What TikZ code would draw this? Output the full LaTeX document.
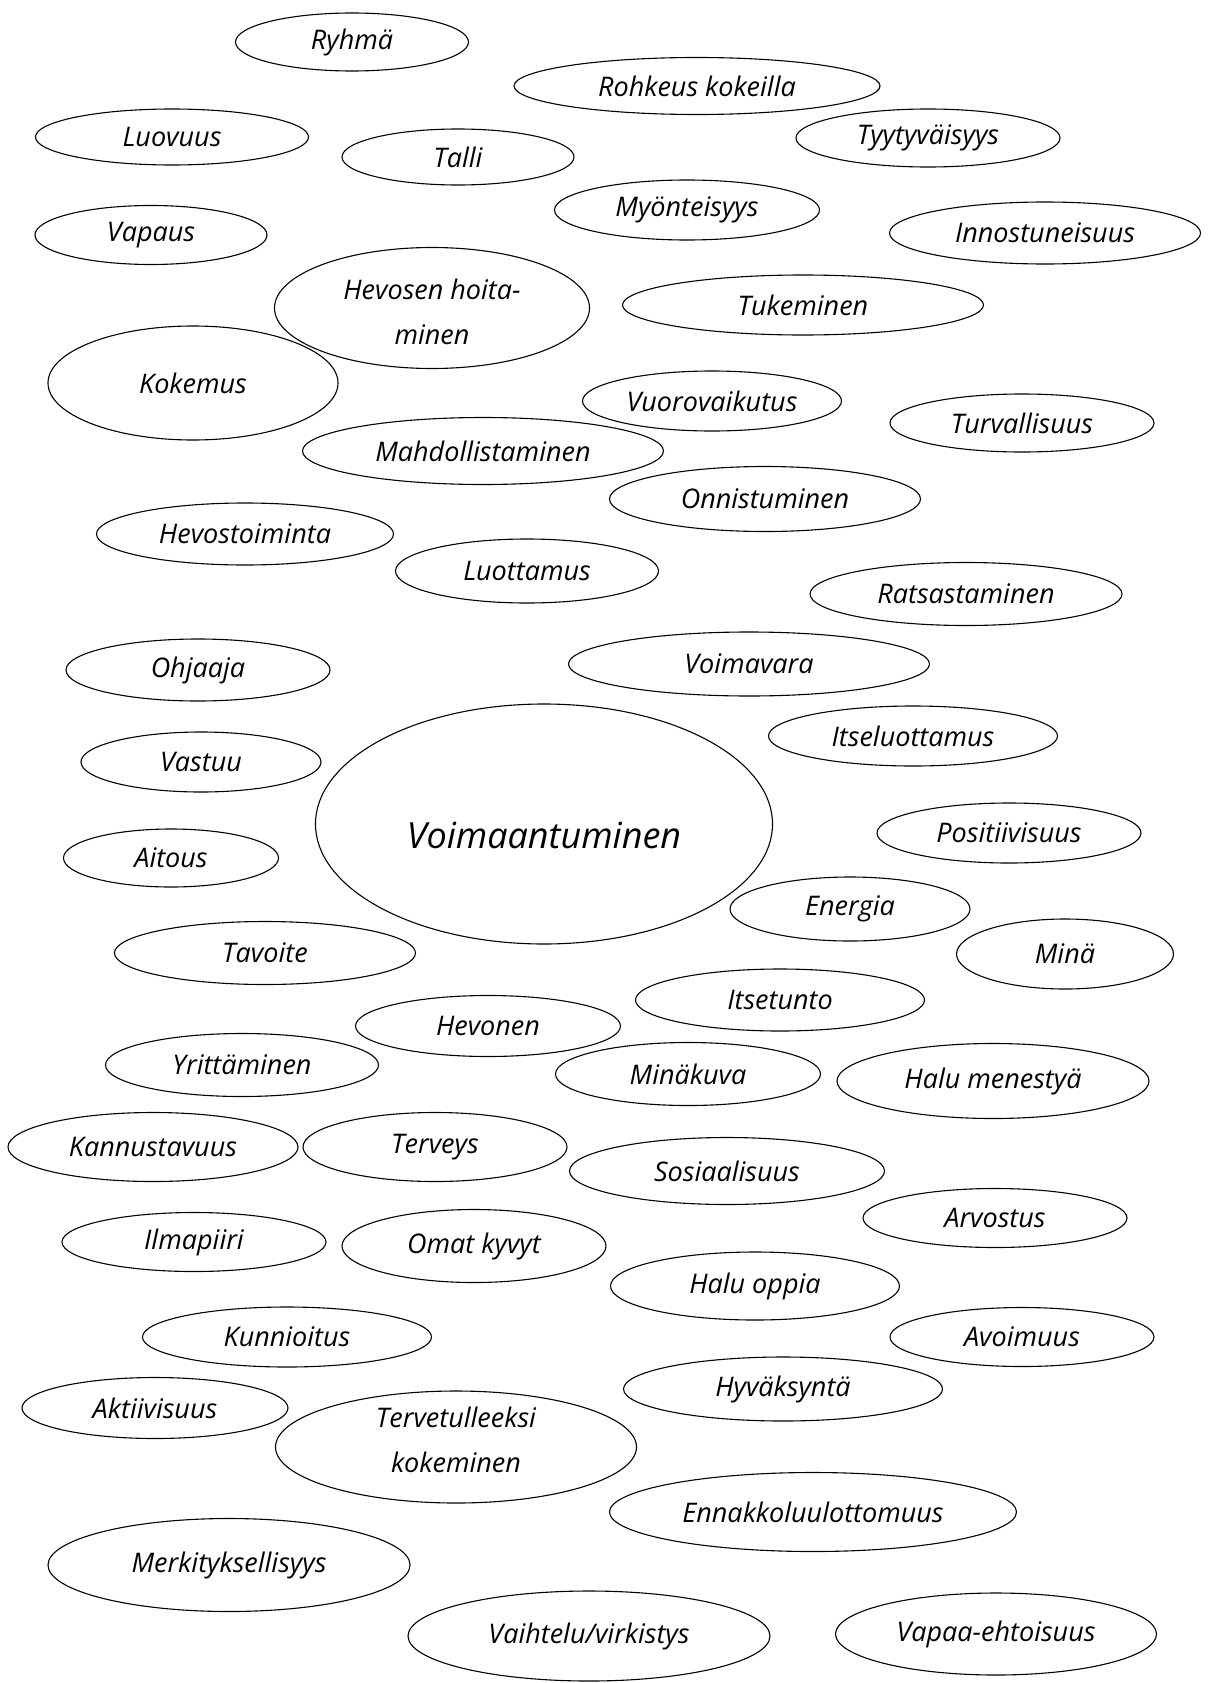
\documentclass[tikz,border=0pt]{standalone}
\usepackage{fontspec}
\setmainfont{Open Sans}
\usetikzlibrary{shapes.geometric}
\begin{document}
\begin{tikzpicture}[x=1pt,y=-1pt,
  bub/.style={ellipse,draw,line width=1.1pt,inner sep=0pt,align=center,
    font=\fontsize{27}{45}\selectfont\itshape},
  txt/.style={inner sep=0pt,align=center,font=\fontsize{27}{45}\selectfont\itshape},
  bigtxt/.style={inner sep=0pt,font=\fontsize{36}{44}\selectfont\itshape}]
\useasboundingbox (0,0) rectangle (1214,1683);
\node[bub,minimum width=233pt,minimum height=58pt] (n1) at (352,42) {Ryhmä};
\node[bub,minimum width=366pt,minimum height=57pt] (n2) at (697,86) {Rohkeus kokeilla};
\node[bub,minimum width=273pt,minimum height=56pt] (n3) at (172,137) {Luovuus};
\node[bub,minimum width=232pt,minimum height=56pt] (n4) at (458,157) {Talli};
\node[bub,minimum width=264pt,minimum height=58pt] (n5) at (928,138) {Tyytyväisyys};
\node[bub,minimum width=265pt,minimum height=60pt] (n6) at (687,210) {Myönteisyys};
\node[bub,minimum width=232pt,minimum height=59pt] (n7) at (151,235) {Vapaus};
\node[bub,minimum width=311pt,minimum height=62pt] (n8) at (1045,233) {Innostuneisuus};
\node[bub,minimum width=315pt,minimum height=121pt] (n9) at (432,308) {};
\node[txt] (n9t) at ([yshift=-4pt]n9.center) {Hevosen hoita-\\minen};
\node[bub,minimum width=361pt,minimum height=60pt] (n10) at (803,305) {Tukeminen};
\node[bub,minimum width=290pt,minimum height=114pt] (n11) at (193,383) {Kokemus};
\node[bub,minimum width=259pt,minimum height=60pt] (n12) at (712,401) {Vuorovaikutus};
\node[bub,minimum width=264pt,minimum height=58pt] (n13) at (1022,423) {Turvallisuus};
\node[bub,minimum width=361pt,minimum height=67pt] (n14) at (483,451) {Mahdollistaminen};
\node[bub,minimum width=311pt,minimum height=65pt] (n15) at (765,499) {Onnistuminen};
\node[bub,minimum width=297pt,minimum height=62pt] (n16) at (245,534) {Hevostoiminta};
\node[bub,minimum width=263pt,minimum height=64pt] (n17) at (527,571) {Luottamus};
\node[bub,minimum width=312pt,minimum height=63pt] (n18) at (966,594) {Ratsastaminen};
\node[bub,minimum width=264pt,minimum height=62pt] (n19) at (198,670) {Ohjaaja};
\node[bub,minimum width=361pt,minimum height=64pt] (n20) at (749,664) {Voimavara};
\node[bub,minimum width=289pt,minimum height=60pt] (n21) at (913,736) {Itseluottamus};
\node[bub,minimum width=240pt,minimum height=60pt] (n22) at (201,762) {Vastuu};
\node[ellipse,draw,line width=1.1pt,minimum width=457pt,minimum height=240pt] (n23) at (544,824) {};
\node[bigtxt] (n23t) at ([yshift=-11pt]n23.center) {Voimaantuminen};
\node[bub,minimum width=264pt,minimum height=60pt] (n24) at (1009,833) {Positiivisuus};
\node[bub,minimum width=215pt,minimum height=58pt] (n25) at (171,858) {Aitous};
\node[bub,minimum width=240pt,minimum height=64pt] (n26) at (850,909) {Energia};
\node[bub,minimum width=217pt,minimum height=70pt] (n27) at (1065,954) {Minä};
\node[bub,minimum width=301pt,minimum height=63pt] (n28) at (265,953) {Tavoite};
\node[bub,minimum width=289pt,minimum height=62pt] (n29) at (780,1000) {Itsetunto};
\node[bub,minimum width=265pt,minimum height=61pt] (n30) at (488,1026) {Hevonen};
\node[bub,minimum width=273pt,minimum height=63pt] (n31) at (242,1065) {Yrittäminen};
\node[bub,minimum width=265pt,minimum height=63pt] (n32) at (688,1074) {Minäkuva};
\node[bub,minimum width=312pt,minimum height=75pt] (n33) at (993,1081) {Halu menestyä};
\node[bub,minimum width=290pt,minimum height=69pt] (n34) at (153,1147) {Kannustavuus};
\node[bub,minimum width=264pt,minimum height=69pt] (n35) at (435,1147) {Terveys};
\node[bub,minimum width=315pt,minimum height=67pt] (n36) at (727,1171) {Sosiaalisuus};
\node[bub,minimum width=264pt,minimum height=59pt] (n37) at (995,1218) {Arvostus};
\node[bub,minimum width=264pt,minimum height=59pt] (n38) at (194,1242) {Ilmapiiri};
\node[bub,minimum width=264pt,minimum height=73pt] (n39) at (474,1246) {Omat kyvyt};
\node[bub,minimum width=289pt,minimum height=68pt] (n40) at (755,1286) {Halu oppia};
\node[bub,minimum width=289pt,minimum height=60pt] (n41) at (287,1337) {Kunnioitus};
\node[bub,minimum width=264pt,minimum height=59pt] (n42) at (1022,1337) {Avoimuus};
\node[bub,minimum width=319pt,minimum height=64pt] (n43) at (783,1389) {Hyväksyntä};
\node[bub,minimum width=266pt,minimum height=61pt] (n44) at (155,1408) {Aktiivisuus};
\node[bub,minimum width=361pt,minimum height=112pt] (n45) at (456,1447) {};
\node[txt] (n45t) at ([yshift=7pt]n45.center) {Tervetulleeksi\\kokeminen};
\node[bub,minimum width=407pt,minimum height=79pt] (n46) at (813,1512) {Ennakkoluulottomuus};
\node[bub,minimum width=362pt,minimum height=93pt] (n47) at (229,1565) {Merkityksellisyys};
\node[bub,minimum width=362pt,minimum height=90pt] (n48) at (589,1636) {Vaihtelu/virkistys};
\node[bub,minimum width=321pt,minimum height=82pt] (n49) at (996,1634) {Vapaa-ehtoisuus};
\end{tikzpicture}
\end{document}
